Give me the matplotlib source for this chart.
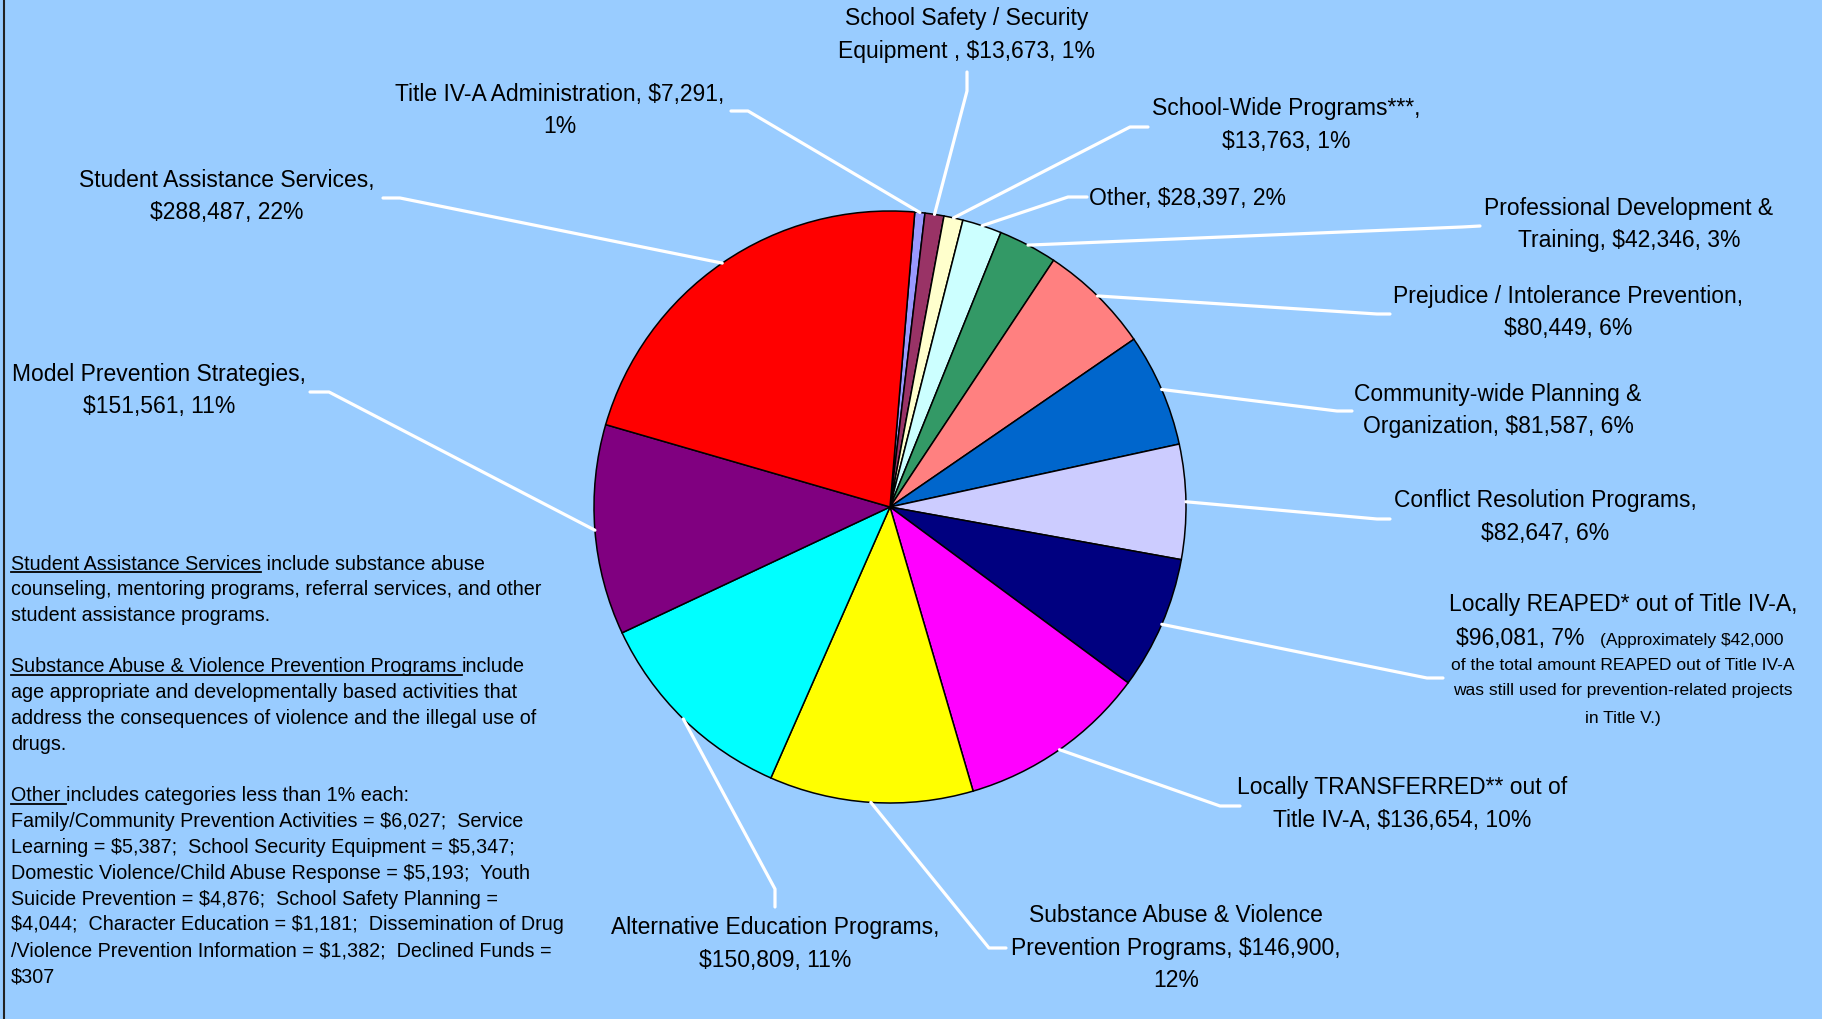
import numpy as np
import matplotlib
matplotlib.use('Agg')
import matplotlib.pyplot as plt

W, H = 1822, 1020
BG = '#99CCFF'
FONT = 'Liberation Sans'

# slices, clockwise from the top
categories = ['Title IV-A Administration', 'School Safety / Security Equipment',
              'School-Wide Programs***', 'Other', 'Professional Development & Training',
              'Prejudice / Intolerance Prevention', 'Community-wide Planning & Organization',
              'Conflict Resolution Programs', 'Locally REAPED* out of Title IV-A',
              'Locally TRANSFERRED** out of Title IV-A',
              'Substance Abuse & Violence Prevention Programs',
              'Alternative Education Programs', 'Model Prevention Strategies',
              'Student Assistance Services']
amounts = [7291, 13673, 13763, 28397, 42346, 80449, 81587, 82647, 96081,
           136654, 146900, 150809, 151561, 288487]
colors = ['#9999FF', '#993366', '#FFFFCC', '#CCFFFF', '#339966', '#FF8080',
          '#0066CC', '#CCCCFF', '#000080', '#FF00FF', '#FFFF00', '#00FFFF',
          '#800080', '#FF0000']

label_text = [
    ['Title IV-A Administration, $7,291,', '1%'],
    ['School Safety / Security', 'Equipment , $13,673, 1%'],
    ['School-Wide Programs***,', '$13,763, 1%'],
    ['Other, $28,397, 2%'],
    ['Professional Development &', 'Training, $42,346, 3%'],
    ['Prejudice / Intolerance Prevention,', '$80,449, 6%'],
    ['Community-wide Planning &', 'Organization, $81,587, 6%'],
    ['Conflict Resolution Programs,', '$82,647, 6%'],
    ['Locally REAPED* out of Title IV-A,'],
    ['Locally TRANSFERRED** out of', 'Title IV-A, $136,654, 10%'],
    ['Substance Abuse & Violence', 'Prevention Programs, $146,900,', '12%'],
    ['Alternative Education Programs,', '$150,809, 11%'],
    ['Model Prevention Strategies,', '$151,561, 11%'],
    ['Student Assistance Services,', '$288,487, 22%'],
]
reaped_amount = '$96,081, 7%'
reaped_note = ['(Approximately $42,000', 'of the total amount REAPED out of Title IV-A',
               'was still used for prevention-related projects', 'in Title V.)']

# label placement (pixels, y from top): x, first line y, align, elbow, line end
label_pos = [
    (560, 94, 'center', (748, 112), (731, 112)),
    (967, 19, 'center', (967, 92), (967, 73)),
    (1286, 109, 'center', (1130, 128), (1148, 128)),
    (1089, 198, 'left', (1068, 198), (1087, 198)),
    (1629, 208, 'center', (1462, 228), (1480, 227)),
    (1568, 296, 'center', (1377, 315), (1390, 315)),
    (1498, 394, 'center', (1337, 412), (1352, 412)),
    (1545, 501, 'center', (1377, 520), (1390, 520)),
    (1623, 605, 'center', (1427, 679), (1443, 679)),
    (1402, 788, 'center', (1220, 807), (1240, 807)),
    (1176, 916, 'center', (989, 949), (1006, 949)),
    (775, 928, 'center', (775, 890), (775, 908)),
    (159, 374, 'center', (329, 393), (310, 393)),
    (227, 180, 'center', (400, 199), (383, 199)),
]

notes = [
    [('Student Assistance Services', ' include substance abuse'),
     'counseling, mentoring programs, referral services, and other',
     'student assistance programs.'],
    [('Substance Abuse & Violence Prevention Programs ', 'include'),
     'age appropriate and developmentally based activities that',
     'address the consequences of violence and the illegal use of',
     'drugs.'],
    [('Other ', 'includes categories less than 1% each:'),
     'Family/Community Prevention Activities = $6,027;  Service',
     'Learning = $5,387;  School Security Equipment = $5,347;',
     'Domestic Violence/Child Abuse Response = $5,193;  Youth',
     'Suicide Prevention = $4,876;  School Safety Planning =',
     '$4,044;  Character Education = $1,181;  Dissemination of Drug',
     '/Violence Prevention Information = $1,382;  Declined Funds =',
     '$307'],
]
note_y0 = [564, 667, 796]


def Y(py):
    return H - py


fig = plt.figure(figsize=(W / 100, H / 100), dpi=100, facecolor=BG)
ax = fig.add_axes([0, 0, 1, 1])
ax.set_facecolor(BG)

cx, cy, r = 890, Y(508), 296
wedges, _ = ax.pie(amounts, colors=colors, startangle=85.2, counterclock=False,
                   center=(cx, cy), radius=r, frame=True,
                   wedgeprops=dict(edgecolor='black', linewidth=1.1))
ax.set_xlim(0, W)
ax.set_ylim(0, H)
ax.set_aspect('equal')
ax.axis('off')

big = 16.5
dy_big = 32.5


def put(x, py, s, size, ha='center'):
    return ax.text(x, Y(py), s, fontsize=size, family=FONT, ha=ha, va='center',
                   color='black', parse_math=False)


for w, lines, (lx, ly, ha, elbow, end) in zip(wedges, label_text, label_pos):
    th = np.deg2rad((w.theta1 + w.theta2) / 2)
    ax_ = cx + r * np.cos(th)
    ay_ = cy + r * np.sin(th)
    ax.plot([ax_, elbow[0], end[0]], [ay_, Y(elbow[1]), Y(end[1])],
            color='white', lw=2.3, solid_capstyle='round', zorder=3)
    for i, s in enumerate(lines):
        put(lx, ly + i * dy_big, s, big, ha)

# extra lines for the REAPED label
put(1456, 638, reaped_amount, big, 'left')
put(1600, 641, reaped_note[0], 12.5, 'left')
for i, s in enumerate(reaped_note[1:]):
    put(1623, [666, 690, 718][i], s, 12.5)

# explanatory notes on the left
renderer = fig.canvas.get_renderer()
small = 14.2
dy_small = 25.8
for block, y0 in zip(notes, note_y0):
    for i, line in enumerate(block):
        py = y0 + i * dy_small
        if isinstance(line, tuple):
            t = put(11, py, line[0], small, 'left')
            bb = t.get_window_extent(renderer)
            ax.plot([bb.x0, bb.x1], [bb.y0 + 1, bb.y0 + 1], color='black', lw=1.3)
            put(bb.x1, py, line[1], small, 'left')
        else:
            put(11, py, line, small, 'left')

ax.plot([4, 4], [0, H], color='#222222', lw=1.5)

fig.savefig('out.png', dpi=100, facecolor=BG)
